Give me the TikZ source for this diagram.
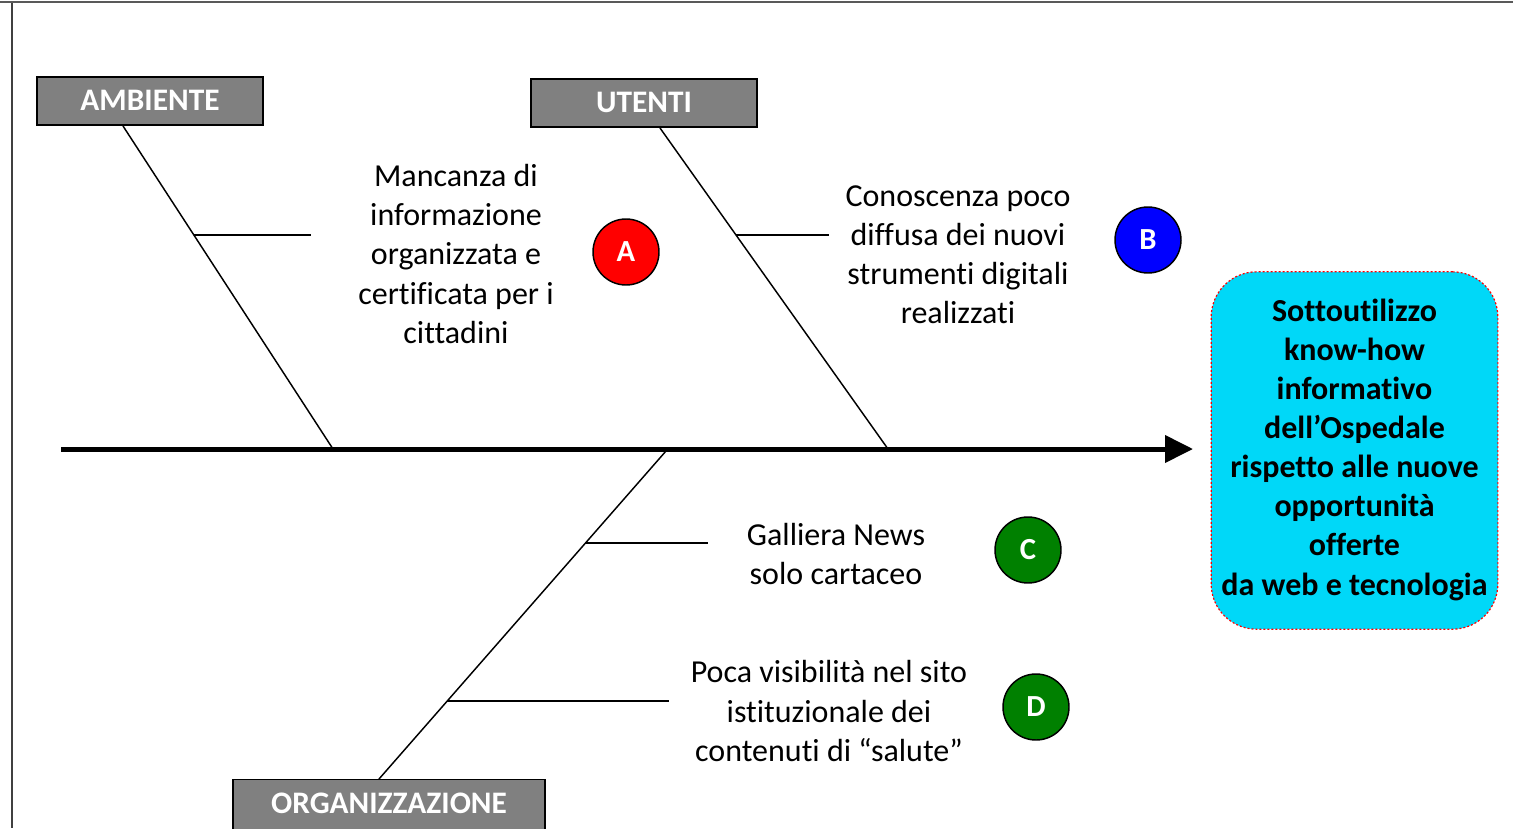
\documentclass[tikz,border=0pt]{standalone}
\usepackage{fontspec}
\setmainfont{Carlito}[Ligatures={ResetAll,NoCommon}]
\usetikzlibrary{arrows.meta,calc}
\definecolor{boxgray}{RGB}{128,128,128}
\definecolor{effcyan}{RGB}{0,216,248}
\definecolor{cgreen}{RGB}{0,128,0}
\tikzset{
  catbox/.style={draw=black, line width=1.1pt, fill=boxgray, text=white, font=\fontsize{23.5}{27}\selectfont\bfseries, minimum height=36pt, inner sep=0pt},
  bone/.style={draw=black, line width=1.1pt},
  cause/.style={align=center, font=\fontsize{24}{29.3}\selectfont, inner sep=0pt},
  badge/.style={circle, draw=black, line width=1.1pt, minimum size=49.5pt, inner sep=0pt, text=white, font=\fontsize{23}{26}\selectfont\bfseries},
  effect/.style={draw=red, dash pattern=on 1.5pt off 1.5pt, line width=0.9pt, fill=effcyan, rounded corners=34pt, minimum width=215pt, minimum height=268pt, align=center, font=\fontsize{24}{29.3}\selectfont\bfseries, inner sep=0pt}
}
\begin{document}
\begin{tikzpicture}[x=0.75pt,y=-0.75pt]
\useasboundingbox (0,0) rectangle (1513,828);
% frame
\draw[gray!70!black, line width=1.6pt] (0,2) -- (1513,2);
\draw[gray!50!black, line width=0.8pt] (12,3) -- (12,828);
% category boxes
\node[catbox, minimum width=169.5pt] (amb) at (150,101) {\raisebox{1.5pt}{AMBIENTE}};
\node[catbox, minimum width=169.5pt] (ute) at (644,103) {\raisebox{1.5pt}{UTENTI}};
\node[catbox, minimum width=234pt, minimum height=40pt] (org) at (389,806) {\raisebox{4.5pt}{ORGANIZZAZIONE}};
% effect
\node[effect] (eff) at (1354.5,450.5) {\raisebox{4pt}{\begin{tabular}{@{}c@{}}Sottoutilizzo\\know-how\\informativo\\dell'Ospedale\\rispetto alle nuove\\opportunità\\offerte\\da web e tecnologia\end{tabular}}};
% spine
\coordinate (tail) at (61,449);
\coordinate (head) at (1193,449);
\draw[line width=3.75pt, -{Triangle[length=21pt,width=20pt]}] (tail) -- (head);
% bone coordinates
\coordinate (ambtop) at (123,126);
\coordinate (ambsp) at (333,449);
\coordinate (utetop) at (660,128);
\coordinate (utesp) at (888,449);
\coordinate (orgsp) at (666,451);
\coordinate (orgbot) at (379,779);
\draw[bone] (ambtop) -- (ambsp);
\draw[bone] (utetop) -- (utesp);
\draw[bone] (orgsp) -- (orgbot);
\draw[bone] ($(ambtop)!0.3375!(ambsp)$) -- ++(117,0);
\draw[bone] ($(utetop)!0.333!(utesp)$) -- ++(93,0);
\draw[bone] ($(orgsp)!0.2805!(orgbot)$) -- ++(122,0);
\draw[bone] ($(orgsp)!0.762!(orgbot)$) -- ++(222,0);
% cause texts
\node[cause] (ta) at (456,254) {Mancanza di\\informazione\\organizzata e\\certificata per i\\cittadini};
\node[cause] (tb) at (958,255) {Conoscenza poco\\diffusa dei nuovi\\strumenti digitali\\realizzati};
\node[cause] (tc) at (836,554) {Galliera News\\solo cartaceo};
\node[cause] (td) at (829,711) {Poca visibilità nel sito\\istituzionale dei\\contenuti di “salute”};
% badges
\node[badge, fill=red] (ba) at (626,252) {A};
\node[badge, fill=blue] (bb) at (1148,240) {B};
\node[badge, fill=cgreen] (bc) at (1028,550) {C};
\node[badge, fill=cgreen] (bd) at (1036,707) {D};
\end{tikzpicture}
\end{document}
